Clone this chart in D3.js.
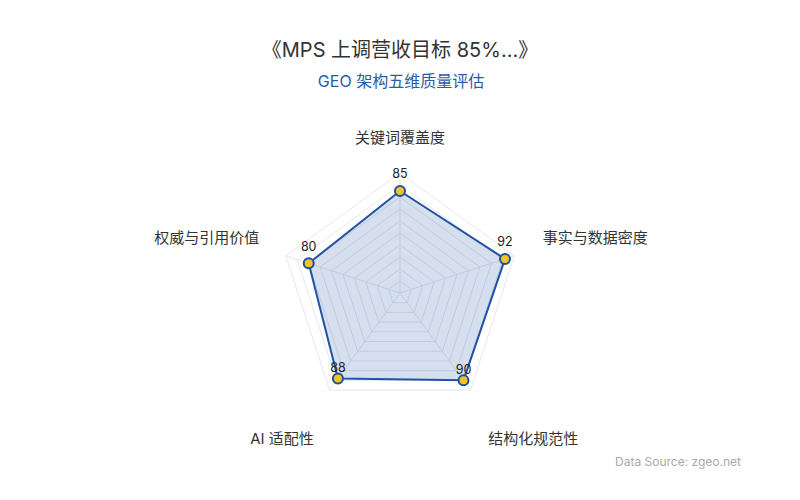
<!DOCTYPE html>
<html>
<head>
<meta charset="utf-8">
<script src="https://cdn.jsdelivr.net/npm/d3@7"></script>
<style>
  body { margin: 0; background: #fff; }
  svg { display: block; font-family: Inter, "Noto Sans CJK SC", sans-serif; }
</style>
</head>
<body>
<div id="chart"></div>
<script>
// chart data
const indicators = ['关键词覆盖度', '事实与数据密度', '结构化规范性', 'AI 适配性', '权威与引用价值']
const scores = [85, 92, 90, 88, 80]
const maxScore = 100
const splitLevels = [10, 20, 30, 40, 50, 60, 70, 80, 90, 100]

const width = 800
const height = 500
const center = [400, 293]
const radius = 120

const svg = d3.select('#chart')
  .append('svg')
  .attr('width', width)
  .attr('height', height)
  .attr('viewBox', `0 0 ${width} ${height}`)

const r = d3.scaleLinear().domain([0, maxScore]).range([0, radius])
const angle = d3.scaleLinear().domain([0, indicators.length]).range([0, 2 * Math.PI])

function pt(i, v) {
  const a = angle(i)
  return [center[0] + r(v) * Math.sin(a), center[1] - r(v) * Math.cos(a)]
}

const lineGen = d3.line().curve(d3.curveLinearClosed)

// titles
svg.append('text')
  .attr('x', width / 2).attr('y', 57)
  .attr('text-anchor', 'middle')
  .style('font-size', '20px')
  .style('fill', '#333')
  .text('《MPS 上调营收目标 85%...》')

svg.append('text')
  .attr('x', width / 2 + 1).attr('y', 87)
  .attr('text-anchor', 'middle')
  .style('font-size', '16px')
  .style('fill', '#2a5caa')
  .text('GEO 架构五维质量评估')

// grid
const grid = svg.append('g')
grid.selectAll('path.level')
  .data(splitLevels)
  .enter().append('path')
  .attr('class', 'level')
  .attr('d', lv => lineGen(indicators.map((_, i) => pt(i, lv))))
  .style('fill', 'none')
  .style('stroke', '#e3e7ef')
  .style('stroke-width', 1)

grid.selectAll('line.spoke')
  .data(indicators)
  .enter().append('line')
  .attr('class', 'spoke')
  .attr('x1', center[0]).attr('y1', center[1])
  .attr('x2', (_, i) => pt(i, maxScore)[0])
  .attr('y2', (_, i) => pt(i, maxScore)[1])
  .style('stroke', '#e3e7ef')
  .style('stroke-width', 1)

// axis names
svg.selectAll('text.axis-name')
  .data(indicators)
  .enter().append('text')
  .attr('class', 'axis-name')
  .each(function(name, i) {
    const a = angle(i)
    const dx = Math.sin(a)
    const dy = -Math.cos(a)
    const L = radius + 30
    const x = center[0] + L * dx + (dx < -0.1 ? 2 : 0)
    const y = center[1] + L * dy
    const shift = dy > 0.5 ? 24 : dy < -0.5 ? -5 : -9
    d3.select(this)
      .attr('x', x)
      .attr('y', y + shift)
      .attr('dy', '0.35em')
      .attr('text-anchor', dx > 0.1 ? 'start' : dx < -0.1 ? 'end' : 'middle')
  })
  .style('font-size', '15px')
  .style('fill', '#333')
  .text(d => d)

// data area
const pts = scores.map((v, i) => pt(i, v))
svg.append('path')
  .attr('d', lineGen(pts))
  .style('fill', 'rgba(30,80,160,0.18)')
  .style('stroke', '#2152a3')
  .style('stroke-width', 2)
  .style('stroke-linejoin', 'round')

svg.selectAll('circle.pt')
  .data(scores)
  .enter().append('circle')
  .attr('class', 'pt')
  .attr('cx', (v, i) => pt(i, v)[0])
  .attr('cy', (v, i) => pt(i, v)[1])
  .attr('r', 5)
  .style('fill', '#f2c12e')
  .style('stroke', '#1f4e9c')
  .style('stroke-width', 2)

svg.selectAll('text.val')
  .data(scores)
  .enter().append('text')
  .attr('class', 'val')
  .attr('x', (v, i) => pt(i, v)[0])
  .attr('y', (v, i) => {
    const p = pt(i, v)
    return p[1] - (p[1] > center[1] ? 10.5 : 17)
  })
  .attr('dy', '0.35em')
  .attr('text-anchor', 'middle')
  .style('font-size', '12.5px')
  .style('fill', '#222')
  .text(d => d)

// source
svg.append('text')
  .attr('x', 741).attr('y', 462)
  .attr('dy', '0.35em')
  .attr('text-anchor', 'end')
  .style('font-size', '12px')
  .style('fill', '#aaa')
  .text('Data Source: zgeo.net')
</script>
</body>
</html>
